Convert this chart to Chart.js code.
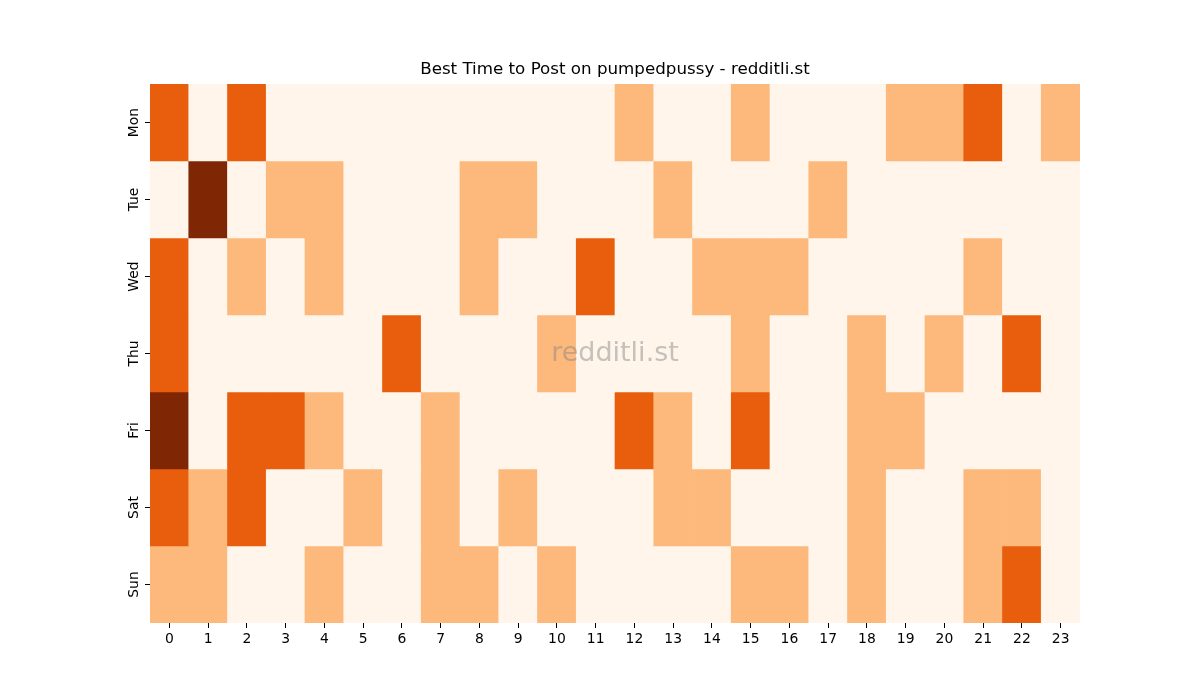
<!DOCTYPE html>
<html>
<head>
<meta charset="utf-8">
<script src="https://cdn.jsdelivr.net/npm/chart.js@4/dist/chart.umd.min.js"></script>
<style>
html,body{margin:0;padding:0;background:#fff;}
#c{display:block;}
</style>
</head>
<body>
<canvas id="c" width="1200" height="700"></canvas>
<script>
const titleText = 'Best Time to Post on pumpedpussy - redditli.st';
const watermark = 'redditli.st';
const hours = ['0','1','2','3','4','5','6','7','8','9','10','11','12','13','14','15','16','17','18','19','20','21','22','23'];
const days = ['Mon','Tue','Wed','Thu','Fri','Sat','Sun'];
// activity level per hour (0 = lowest .. 3 = highest)
const mon = [2,0,2,0,0,0,0,0,0,0,0,0,1,0,0,1,0,0,0,1,1,2,0,1];
const tue = [0,3,0,1,1,0,0,0,1,1,0,0,0,1,0,0,0,1,0,0,0,0,0,0];
const wed = [2,0,1,0,1,0,0,0,1,0,0,2,0,0,1,1,1,0,0,0,0,1,0,0];
const thu = [2,0,0,0,0,0,2,0,0,0,1,0,0,0,0,1,0,0,1,0,1,0,2,0];
const fri = [3,0,2,2,1,0,0,1,0,0,0,0,2,1,0,2,0,0,1,1,0,0,0,0];
const sat = [2,1,2,0,0,1,0,1,0,1,0,0,0,1,1,0,0,0,1,0,0,1,1,0];
const sun = [1,1,0,0,1,0,0,1,1,0,1,0,0,0,0,1,1,0,1,0,0,1,2,0];
const levels = [mon,tue,wed,thu,fri,sat,sun];
const palette = ['#fff5eb','#fdb87c','#e95e0d','#7f2704'];

const FONT = "'DejaVu Sans', sans-serif";

const datasets = days.map((d,i)=>({
  label: d,
  data: hours.map(()=>1),
  backgroundColor: levels[i].map(v=>palette[v]),
  borderWidth: 0,
  barPercentage: 1,
  categoryPercentage: 1,
  stack: 's'
}));

const overlay = {
  id: 'overlay',
  afterDraw(chart){
    const ctx = chart.ctx, ca = chart.chartArea, ys = chart.scales.y;
    const cx = (ca.left+ca.right)/2;
    ctx.save();
    ctx.textAlign = 'center';
    ctx.textBaseline = 'middle';
    // title
    ctx.font = "16.7px " + FONT;
    ctx.fillStyle = '#000';
    ctx.fillText(titleText, cx, ca.top - 14);
    // watermark
    ctx.font = "27px " + FONT;
    ctx.fillStyle = 'rgba(128,128,128,0.45)';
    ctx.fillText(watermark, cx, (ca.top+ca.bottom)/2);
    // y tick labels (rotated)
    ctx.font = "13.9px " + FONT;
    ctx.fillStyle = '#000';
    days.forEach((d,i)=>{
      const y = ys.getPixelForValue(i+0.5);
      ctx.save();
      ctx.translate(ca.left - 16, y);
      ctx.rotate(-Math.PI/2);
      ctx.fillText(d, 0, 0);
      ctx.restore();
    });
    ctx.restore();
  }
};

new Chart(document.getElementById('c'), {
  type: 'bar',
  data: { labels: hours, datasets },
  options: {
    responsive: false,
    animation: false,
    devicePixelRatio: 1,
    layout: { padding: { left: 0, right: 120, top: 84, bottom: 0 } },
    plugins: {
      legend: { display: false },
      tooltip: { enabled: false },
      title: { display: false }
    },
    scales: {
      x: {
        stacked: true,
        offset: true,
        grid: { offset: false, drawOnChartArea: false, drawTicks: true, tickLength: 5, tickColor: '#000', tickWidth: 1 },
        border: { display: false },
        ticks: { color: '#000', font: { family: FONT, size: 13.9 }, padding: 3, maxRotation: 0, autoSkip: false },
        afterFit(s){ s.height = 77; }
      },
      y: {
        type: 'linear',
        stacked: true,
        min: 0, max: 7,
        reverse: true,
        afterBuildTicks(s){ s.ticks = days.map((d,i)=>({ value: i+0.5 })); },
        grid: { drawOnChartArea: false, drawTicks: true, tickLength: 5, tickColor: '#000', tickWidth: 1 },
        border: { display: false },
        ticks: { display: false },
        afterFit(s){ s.width = 150; }
      }
    }
  },
  plugins: [overlay]
});
</script>
</body>
</html>
